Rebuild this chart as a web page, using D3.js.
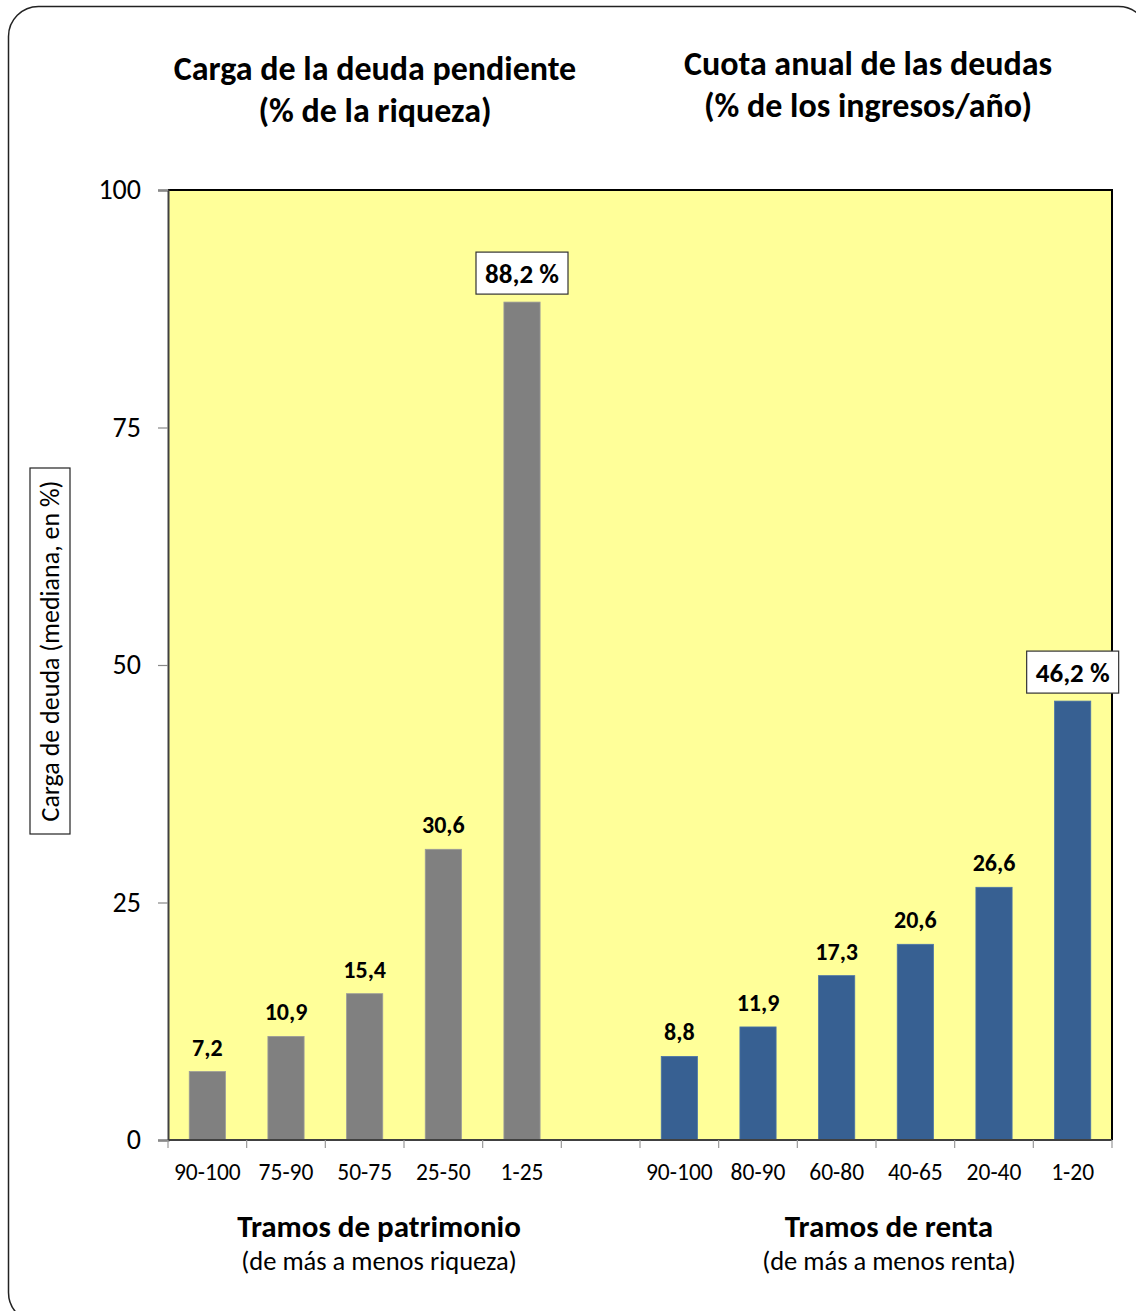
<!DOCTYPE html>
<html>
<head>
<meta charset="utf-8">
<script src="https://cdn.jsdelivr.net/npm/d3@7"></script>
<style>
  html, body { margin: 0; padding: 0; background: #fff; }
  svg { display: block; }
  text { font-family: Carlito, Lato, "Liberation Sans", sans-serif; fill: #000; }
</style>
</head>
<body>
<svg id="chart" width="1136" height="1311"></svg>
<script>
// Wealth brackets: outstanding debt as % of wealth
const wealthCategories = ["90-100", "75-90", "50-75", "25-50", "1-25"];
const wealthValues = [7.2, 10.9, 15.4, 30.6, 88.2];
// Income brackets: annual debt payment as % of income
const incomeCategories = ["90-100", "80-90", "60-80", "40-65", "20-40", "1-20"];
const incomeValues = [8.8, 11.9, 17.3, 20.6, 26.6, 46.2];
const yTicks = [0, 25, 50, 75, 100];
const highlighted = { wealth: 4, income: 5 }; // values shown in a boxed label with "%"

const svg = d3.select("#chart");

// outer rounded frame
svg.append("rect")
  .attr("x", 8.5).attr("y", 6.5)
  .attr("width", 1140).attr("height", 1316)
  .attr("rx", 30).attr("ry", 30)
  .attr("fill", "#fff").attr("stroke", "#222").attr("stroke-width", 1.5);

const plot = { left: 168, right: 1112, top: 190, bottom: 1140 };

// one band per bar plus an empty slot between the two groups
const rows = [
  ...wealthCategories.map((c, i) => ({ key: "w" + i, label: c, value: wealthValues[i], group: "wealth", idx: i })),
  { key: "gap", label: "", value: null, group: "gap" },
  ...incomeCategories.map((c, i) => ({ key: "i" + i, label: c, value: incomeValues[i], group: "income", idx: i }))
];

const x = d3.scaleBand()
  .domain(rows.map(r => r.key))
  .range([plot.left, plot.right])
  .paddingInner(0.54)
  .paddingOuter(0.27);

const y = d3.scaleLinear().domain([0, 100]).range([plot.bottom, plot.top]);

// plot background
svg.append("rect")
  .attr("x", plot.left).attr("y", plot.top)
  .attr("width", plot.right - plot.left).attr("height", plot.bottom - plot.top)
  .attr("fill", "#FFFF99");

// bars
const bars = rows.filter(r => r.value !== null);
svg.append("g").selectAll("rect")
  .data(bars)
  .join("rect")
  .attr("x", d => x(d.key))
  .attr("width", x.bandwidth())
  .attr("y", d => y(d.value))
  .attr("height", d => y(0) - y(d.value))
  .attr("fill", d => d.group === "wealth" ? "#808080" : "#376092")
  .attr("stroke", d => d.group === "wealth" ? "#9a9a9a" : "#4a74a8")
  .attr("stroke-width", 0.8);

// frame: top and right edges
svg.append("line")
  .attr("x1", plot.left).attr("x2", plot.right + 1)
  .attr("y1", plot.top).attr("y2", plot.top)
  .attr("stroke", "#000").attr("stroke-width", 2);
svg.append("line")
  .attr("x1", plot.right).attr("x2", plot.right)
  .attr("y1", plot.top).attr("y2", plot.bottom)
  .attr("stroke", "#000").attr("stroke-width", 2);

// y axis
const yAxis = svg.append("g")
  .attr("transform", `translate(${plot.left},0)`)
  .call(d3.axisLeft(y).tickValues(yTicks).tickSize(10).tickPadding(17).tickFormat(d3.format("d")));
yAxis.select(".domain").attr("stroke", "#404040").attr("stroke-width", 2);
yAxis.selectAll(".tick line").attr("stroke", "#888").attr("stroke-width", 1.2);
yAxis.selectAll(".tick text")
  .style("font-family", "Carlito, Lato, 'Liberation Sans', sans-serif")
  .attr("font-size", 28).attr("fill", "#000");

// x axis baseline with ticks on slot boundaries
const step = x.step();
const boundaries = rows.map(r => x(r.key) - (step - x.bandwidth()) / 2).concat([plot.right]);
svg.append("line")
  .attr("x1", plot.left).attr("x2", plot.right)
  .attr("y1", plot.bottom).attr("y2", plot.bottom)
  .attr("stroke", "#404040").attr("stroke-width", 2);
svg.append("g").selectAll("line")
  .data(boundaries)
  .join("line")
  .attr("x1", d => d).attr("x2", d => d)
  .attr("y1", plot.bottom).attr("y2", plot.bottom + 8)
  .attr("stroke", "#999").attr("stroke-width", 1.2);

// category labels
svg.append("g").selectAll("text")
  .data(rows.filter(r => r.label))
  .join("text")
  .attr("x", d => x(d.key) + x.bandwidth() / 2)
  .attr("y", 1180)
  .attr("text-anchor", "middle")
  .attr("font-size", 23.5)
  .attr("fill", "#222")
  .text(d => d.label);

// value labels
const fmt = v => v.toFixed(1).replace(".", ",");
const plain = bars.filter(d => d.idx !== highlighted[d.group]);
svg.append("g").selectAll("text")
  .data(plain)
  .join("text")
  .attr("x", d => x(d.key) + x.bandwidth() / 2)
  .attr("y", d => y(d.value) - 16)
  .attr("text-anchor", "middle")
  .attr("font-size", 24)
  .attr("font-weight", "bold")
  .text(d => fmt(d.value));

const boxed = bars.filter(d => d.idx === highlighted[d.group]);
const boxG = svg.append("g").selectAll("g")
  .data(boxed)
  .join("g")
  .attr("transform", d => `translate(${x(d.key) + x.bandwidth() / 2},${y(d.value) - 8})`);
boxG.append("rect")
  .attr("x", -46).attr("y", -42)
  .attr("width", 92).attr("height", 42)
  .attr("fill", "#fff").attr("stroke", "#333").attr("stroke-width", 1.2);
boxG.append("text")
  .attr("x", 0).attr("y", -11)
  .attr("text-anchor", "middle")
  .attr("font-size", 27)
  .attr("font-weight", "bold")
  .text(d => fmt(d.value) + " %");

// panel titles
const titles = [
  { cx: 375, lines: ["Carga de la deuda pendiente", "(% de la riqueza)"], y0: 80 },
  { cx: 868, lines: ["Cuota anual de las deudas", "(% de los ingresos/año)"], y0: 75 }
];
titles.forEach(t => {
  t.lines.forEach((line, i) => {
    svg.append("text")
      .attr("x", t.cx).attr("y", t.y0 + i * 42)
      .attr("text-anchor", "middle")
      .attr("font-size", 34)
      .attr("font-weight", "bold")
      .text(line);
  });
});

// x group titles
const groupTitles = [
  { cx: 379, main: "Tramos de patrimonio", sub: "(de más a menos riqueza)" },
  { cx: 889, main: "Tramos de renta", sub: "(de más a menos renta)" }
];
groupTitles.forEach(g => {
  svg.append("text")
    .attr("x", g.cx).attr("y", 1237)
    .attr("text-anchor", "middle")
    .attr("font-size", 31)
    .attr("font-weight", "bold")
    .text(g.main);
  svg.append("text")
    .attr("x", g.cx).attr("y", 1270)
    .attr("text-anchor", "middle")
    .attr("font-size", 26.5)
    .attr("fill", "#222")
    .text(g.sub);
});

// y axis title in a box
const yTitle = svg.append("g").attr("transform", "translate(50,651) rotate(-90)");
yTitle.append("rect")
  .attr("x", -183).attr("y", -20)
  .attr("width", 366).attr("height", 40)
  .attr("fill", "#fff").attr("stroke", "#222").attr("stroke-width", 1.2);
yTitle.append("text")
  .attr("x", 0).attr("y", 9)
  .attr("text-anchor", "middle")
  .attr("font-size", 26)
  .text("Carga de deuda (mediana, en %)");
</script>
</body>
</html>
